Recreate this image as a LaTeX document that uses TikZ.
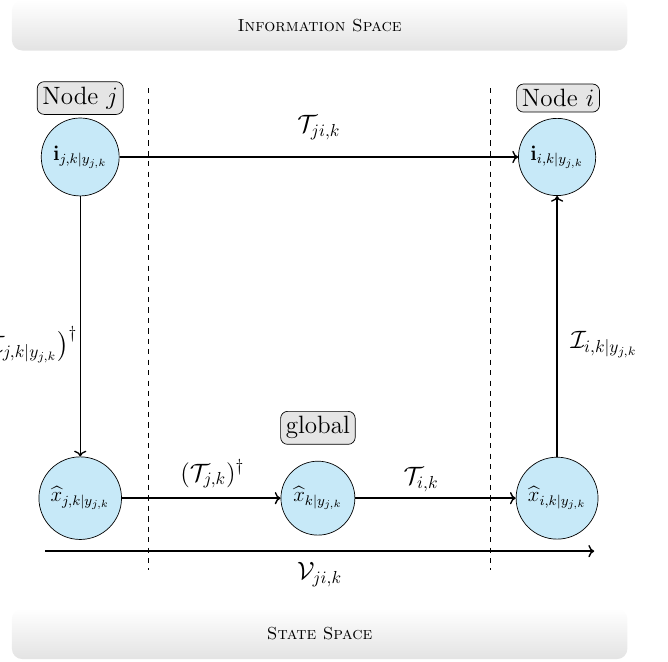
\documentclass[tikz,border=0pt]{standalone}
\usepackage{amsmath}
\usetikzlibrary{calc}
\usetikzlibrary{arrows.meta}
\definecolor{statefill}{RGB}{199,233,248}
\newcommand\est[1]{\widehat{x}_{#1}}

\begin{document}
\begin{tikzpicture}[
  state/.style={circle,draw,fill=statefill,inner sep=4.2pt,font=\large},
  tag/.style={draw,rounded corners=4pt,fill=gray!20,inner sep=3pt,font=\Large},
  banner/.style={rounded corners=6pt,top color=white,bottom color=gray!22,minimum width=12.43cm,minimum height=1.02cm},
  flow/.style={->,thick},
  lbl/.style={font=\Large}
]

\useasboundingbox (0,0) rectangle (13.49,13.35);
\clip (0,0) rectangle (13.49,13.35);

\node[banner] (info) at (6.455,12.84) {\textsc{Information Space}};
\node[banner] (statesp) at (6.455,0.55) {\textsc{State Space}};

\node[tag] (lblj) at (1.62,11.37) {Node $j$};
\node[tag] (lbli) at (11.27,11.37) {Node $i$};
\node[tag] (lblg) at (6.42,4.71) {global};

\node[state] (ij) at (1.62,10.18) {$\mathbf{i}_{j,k|y_{j,k}}$};
\node[state] (ii) at (11.25,10.18) {$\mathbf{i}_{i,k|y_{j,k}}$};
\node[state] (xj) at (1.62,3.29) {$\est{j,k|y_{j,k}}$};
\node[state] (xg) at (6.42,3.29) {$\est{k|y_{j,k}}$};
\node[state] (xi) at (11.25,3.29) {$\est{i,k|y_{j,k}}$};

\coordinate (sepja) at (2.99,11.57);
\coordinate (sepjb) at (2.99,1.84);
\coordinate (sepia) at (9.9,11.57);
\coordinate (sepib) at (9.9,1.84);
\coordinate (va) at (0.91,2.22);
\coordinate (vb) at (12.0,2.22);

\draw[dashed] (sepja)--(sepjb);
\draw[dashed] (sepia)--(sepib);

\draw[flow] (ij)--(ii) node[lbl,above,midway,yshift=6pt] {$\mathcal{T}_{ji,k}$};
\draw[flow] (ij)--(xj) node[lbl,left,pos=0.57,xshift=2pt] {$\left(\mathcal{I}_{j,k|y_{j,k}}\right)^{\dagger}$};
\draw[flow] (xj)--(xg) node[lbl,above,pos=0.57,yshift=2pt] {$(\mathcal{T}_{j,k})^{\dagger}$};
\draw[flow] (xg)--(xi) node[lbl,above,pos=0.41] {$\mathcal{T}_{i,k}$};
\draw[flow] (xi)--(ii) node[lbl,right,pos=0.43,xshift=4pt] {$\mathcal{I}_{i,k|y_{j,k}}$};
\draw[flow] (va)--(vb) node[lbl,below,midway,yshift=-3pt] {$\mathcal{V}_{ji,k}$};

\end{tikzpicture}
\end{document}
